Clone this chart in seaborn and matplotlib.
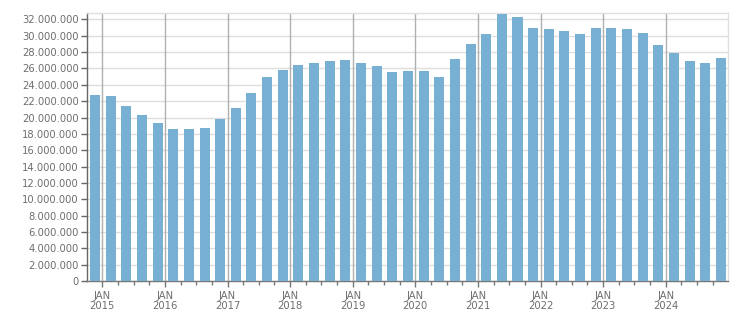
import matplotlib
matplotlib.use("Agg")
import matplotlib.pyplot as plt
import seaborn as sns
import pandas as pd
from matplotlib.ticker import FixedLocator, FuncFormatter

# Quarterly values (in millions)
values_m = [22.74, 22.62, 21.40, 20.30, 19.32, 18.59, 18.59, 18.71, 19.81, 21.15,
            22.99, 24.94, 25.80, 26.41, 26.66, 26.90, 27.02, 26.66, 26.29, 25.56,
            25.68, 25.68, 24.94, 27.15, 28.98, 30.20, 32.65, 32.28, 30.94, 30.81,
            30.57, 30.20, 30.94, 30.94, 30.81, 30.33, 28.86, 27.88, 26.90, 26.66,
            27.27]
years = [2015, 2016, 2017, 2018, 2019, 2020, 2021, 2022, 2023, 2024]
month_label = "JAN"

values = [v * 1e6 for v in values_m]
df = pd.DataFrame({"period": [f"P{i:02d}" for i in range(len(values))], "value": values})

sns.set_style("white")
plt.rcParams["font.family"] = ["DejaVu Sans"]

fig = plt.figure(figsize=(7.51, 3.13), dpi=100)
ax = fig.add_axes([87.3 / 751, 1 - 281 / 313, (728.3 - 87.3) / 751, (281 - 13.3) / 313])

sns.barplot(data=df, x="period", y="value", color="#78b0d3", width=0.64,
            saturation=1, ax=ax, zorder=3, linewidth=0)

ax.set_xlim(-0.49, len(values) - 1 + 0.47)
ax.set_ylim(0, 32.75e6)

# y ticks
yt = list(range(0, 32000001, 2000000))
ax.yaxis.set_major_locator(FixedLocator(yt))
ax.yaxis.set_major_formatter(FuncFormatter(lambda v, p: f"{int(v):,}".replace(",", ".")))
ax.grid(axis="y", color="#dedede", linewidth=1.0, zorder=0)

# x ticks: JAN of each year, minor every quarter
offset = 0.47
major = [4 * k + offset for k in range(len(years))]
minor = [4 * k + offset + j for k in range(len(years)) for j in (1, 2, 3)]
minor = [m for m in minor if m < len(values) - 0.5]
ax.set_xticks(major)
ax.set_xticklabels([f"{month_label}\n{y}" for y in years], linespacing=1.05)
ax.set_xticks(minor, minor=True)
for x in major:
    ax.axvline(x, color="#b0b0b0", linewidth=1.0, zorder=1)

ax.set_xlabel("")
ax.set_ylabel("")

for s in ["top", "right"]:
    ax.spines[s].set_color("#e0e0e0")
    ax.spines[s].set_linewidth(1.0)
ax.spines["left"].set_color("#666666")
ax.spines["bottom"].set_color("#777777")
ax.spines["left"].set_linewidth(1.0)
ax.spines["bottom"].set_linewidth(1.0)

ax.tick_params(axis="y", which="major", length=4, width=1, color="#666666",
               labelsize=7.2, labelcolor="#6e6e6e", pad=2, left=True)
ax.tick_params(axis="x", which="major", length=4, width=1, color="#777777",
               labelsize=7.2, labelcolor="#6e6e6e", pad=3, bottom=True)
ax.tick_params(axis="x", which="minor", length=3, width=1, color="#777777", bottom=True)

fig.savefig("out.png", dpi=100)
